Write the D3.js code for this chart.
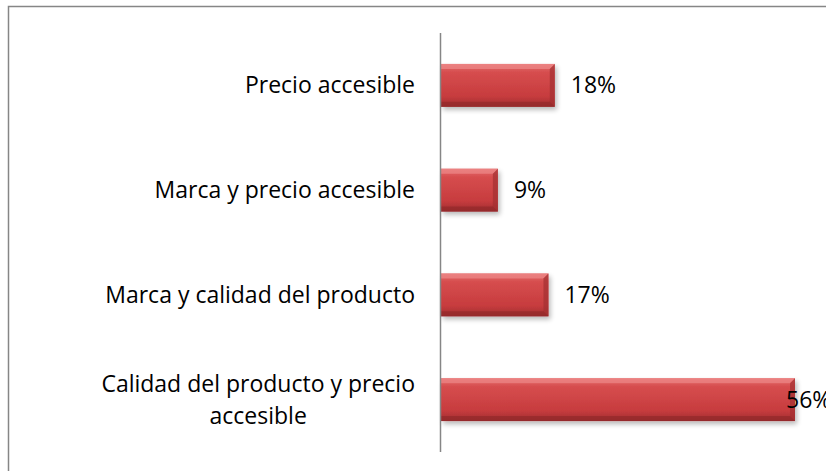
<!DOCTYPE html>
<html>
<head>
<meta charset="utf-8">
<script src="https://cdn.jsdelivr.net/npm/d3@7"></script>
<style>
  body { margin: 0; background: #fff; }
  svg { display: block; }
</style>
</head>
<body>
<div id="chart"></div>
<script>
'use strict';

// data, top to bottom as in the chart
const categories = [
    ["Precio accesible"],
    ["Marca y precio accesible"],
    ["Marca y calidad del producto"],
    ["Calidad del producto y precio", "accesible"]
];
const values = [18, 9, 17, 56];
const valueLabels = ["18%", "9%", "17%", "56%"];

const W = 826, H = 471;
const margin = {top: 33, right: 31, bottom: 19, left: 441};
const width = W - margin.left - margin.right;
const height = H - margin.top - margin.bottom;

const svg = d3.select("#chart").append("svg")
    .attr("width", W)
    .attr("height", H);

// chart frame (runs off the right and bottom edges)
svg.append("rect")
    .attr("x", 8.5).attr("y", 6.5)
    .attr("width", W + 10).attr("height", H + 10)
    .attr("fill", "none")
    .attr("stroke", "#868686")
    .attr("stroke-width", 1.5);

const defs = svg.append("defs");
const grad = defs.append("linearGradient")
    .attr("id", "barGrad")
    .attr("x1", 0).attr("y1", 0).attr("x2", 0).attr("y2", 1);
grad.append("stop").attr("offset", "0%").attr("stop-color", "#e46c6c");
grad.append("stop").attr("offset", "20%").attr("stop-color", "#d64d4e");
grad.append("stop").attr("offset", "75%").attr("stop-color", "#c73c3e");
grad.append("stop").attr("offset", "100%").attr("stop-color", "#a02e30");

const shadow = defs.append("filter")
    .attr("id", "shadow")
    .attr("x", "-10%").attr("y", "-20%")
    .attr("width", "130%").attr("height", "160%");
shadow.append("feGaussianBlur").attr("in", "SourceAlpha").attr("stdDeviation", 2.5);
shadow.append("feOffset").attr("dx", 2).attr("dy", 3).attr("result", "b");
shadow.append("feComponentTransfer").append("feFuncA").attr("type", "linear").attr("slope", 0.28);
const merge = shadow.append("feMerge");
merge.append("feMergeNode");
merge.append("feMergeNode").attr("in", "SourceGraphic");

const g = svg.append("g")
    .attr("transform", `translate(${margin.left},${margin.top})`)
    .attr("font-family", "'Open Sans', sans-serif");

const x = d3.scaleLinear()
    .domain([0, 56])
    .range([0, 354]);

const y = d3.scaleBand()
    .domain(d3.range(values.length))
    .range([0, height])
    .paddingInner(0.59)
    .paddingOuter(0.295);

// bars
const bars = g.append("g").selectAll("g")
    .data(values)
    .join("g")
    .attr("transform", (d, i) => `translate(0,${y(i)})`);

bars.append("rect")
    .attr("width", d => x(d))
    .attr("height", y.bandwidth())
    .attr("fill", "url(#barGrad)")
    .attr("filter", "url(#shadow)");

// bevel edges
const b = 5;
bars.append("path")
    .attr("d", d => `M0,0 L${x(d)},0 L${x(d) - b},${b} L0,${b} Z`)
    .attr("fill", "#f09090")
    .attr("opacity", 0.6);
bars.append("path")
    .attr("d", d => {
        const w = x(d), h = y.bandwidth();
        return `M${w},0 L${w},${h} L${w - b},${h - b} L${w - b},${b} Z`;
    })
    .attr("fill", "#a33032")
    .attr("opacity", 0.7);
bars.append("path")
    .attr("d", d => {
        const w = x(d), h = y.bandwidth();
        return `M0,${h} L${w},${h} L${w - b},${h - b} L0,${h - b} Z`;
    })
    .attr("fill", "#8e2628")
    .attr("opacity", 0.6);

// value labels (the last one gets pushed back over the bar end)
g.append("g").selectAll("text")
    .data(values)
    .join("text")
    .attr("x", d => Math.min(x(d) + 16, width - 9))
    .attr("y", (d, i) => y(i) + y.bandwidth() / 2)
    .attr("dy", "0.35em")
    .attr("font-size", 23)
    .attr("fill", "#000")
    .text((d, i) => valueLabels[i]);

// axis line
g.append("line")
    .attr("x1", -0.5).attr("x2", -0.5)
    .attr("y1", 0).attr("y2", height)
    .attr("stroke", "#868686")
    .attr("stroke-width", 1.5);

// category labels
const lh = 32;
g.append("g").selectAll("text")
    .data(categories)
    .join("text")
    .attr("text-anchor", "middle")
    .attr("font-size", 23)
    .attr("fill", "#000")
    .attr("transform", (d, i) => {
        const cy = y(i) + y.bandwidth() / 2 - (d.length - 1) * lh / 2;
        return `translate(0,${cy})`;
    })
    .each(function(d) {
        const t = d3.select(this);
        // right-align the block, centre lines within it
        const tmp = t.append("tspan").text(d[0]);
        const wmax = d3.max(d, s => { tmp.text(s); return tmp.node().getComputedTextLength(); });
        tmp.remove();
        d.forEach((s, k) => {
            t.append("tspan")
                .attr("x", -26 - wmax / 2)
                .attr("y", k * lh)
                .attr("dy", "0.35em")
                .text(s);
        });
    });
</script>
</body>
</html>
